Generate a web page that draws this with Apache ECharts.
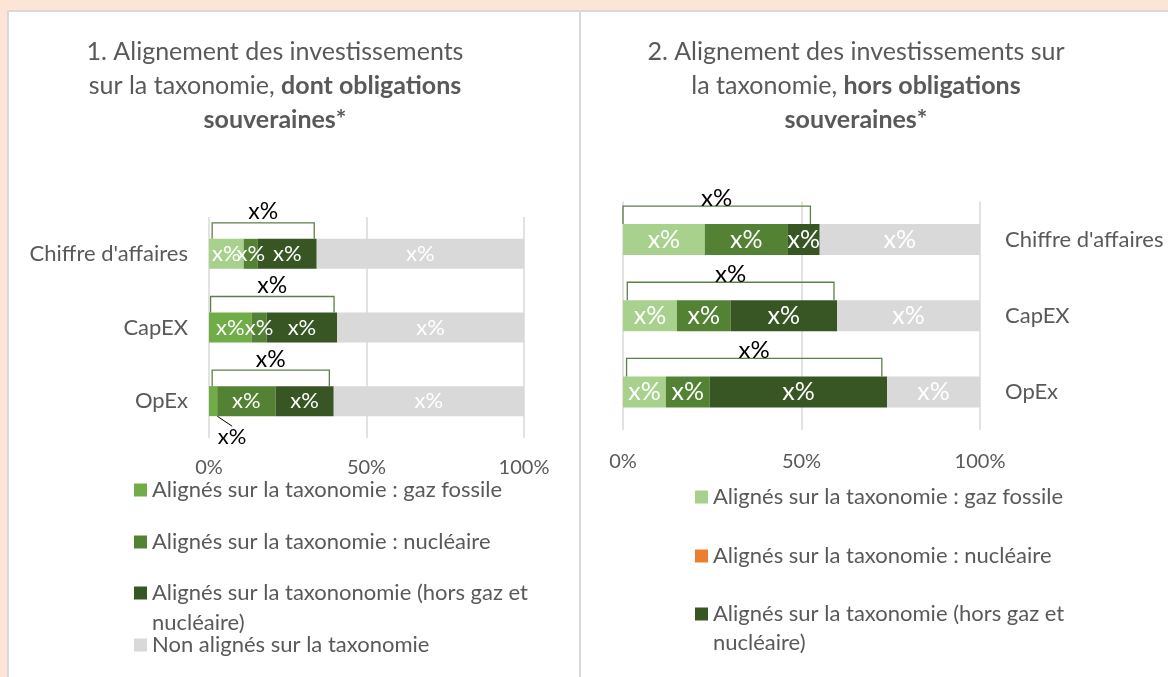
<!DOCTYPE html>
<html><head><meta charset="utf-8">
<script src="https://cdn.jsdelivr.net/npm/echarts@6/dist/echarts.min.js"></script>
<style>
html,body{margin:0;padding:0;background:#FCE4D6;width:1168px;height:677px;overflow:hidden;}
#frame{position:absolute;left:7px;top:10px;width:1170px;height:680px;background:#fff;border-left:2px solid #D9D9D9;border-top:2px solid #D9D9D9;}
#divider{position:absolute;left:579px;top:11px;width:2px;height:670px;background:#D9D9D9;}
#chart{position:absolute;left:0;top:0;width:1168px;height:677px;}
</style></head>
<body>
<div id="frame"></div><div id="divider"></div><div id="chart"></div>
<script>
const FONT = 'Lato';
const categories = ["Chiffre d'affaires", "CapEX", "OpEx"];
const ticks = [0, 50, 100];
const barLabelText = 'x%';

// Chart 1 : dont obligations souveraines
const left_gaz = [11.0, 13.5, 2.6];
const left_nucl = [4.5, 4.8, 18.5];
const left_hors = [18.7, 22.4, 18.5];
const left_non = [65.8, 59.3, 60.4];
const left_bracketStart = [1.0, 0.5, 1.0];
const left_bracketEnd = [33.4, 39.7, 38.2];
const left_legend = ["Alignés sur la taxonomie : gaz fossile", "Alignés sur la taxonomie : nucléaire", "Alignés sur la taxononomie (hors gaz et\nnucléaire)", "Non alignés sur la taxonomie"];

// Chart 2 : hors obligations souveraines
const right_gaz = [22.9, 15.1, 12.0];
const right_nucl = [23.3, 15.0, 12.3];
const right_hors = [8.9, 29.9, 49.7];
const right_non = [44.9, 40.0, 26.0];
const right_bracketStart = [0, 1.2, 1.0];
const right_bracketEnd = [52.5, 59.1, 72.5];
const right_legend = ["Alignés sur la taxonomie : gaz fossile", "Alignés sur la taxonomie : nucléaire", "Alignés sur la taxonomie (hors gaz et\nnucléaire)"];

const TXT = '#595959';
const names = { gazL: left_legend[0], nuclL: left_legend[1], horsL: left_legend[2], nonL: left_legend[3],
  gazR: right_legend[0], nuclR: right_legend[1], horsR: right_legend[2] };

function bracketRender(barW, rise, labelAbove, fontSize) {
  return function (params, api) {
    const c = api.value(1);
    const p0 = api.coord([api.value(0), c]);
    const p1 = api.coord([api.value(2), c]);
    const barTop = p0[1] - barW / 2;
    const top = barTop - rise;
    return {
      type: 'group',
      children: [
        { type: 'polyline', shape: { points: [[p0[0], barTop], [p0[0], top], [p1[0], top], [p1[0], barTop]] },
          style: { stroke: '#5E7F47', lineWidth: 1.3, fill: null } },
        { type: 'text', x: (p0[0] + p1[0]) / 2, y: top - labelAbove,
          style: { text: barLabelText, align: 'center', verticalAlign: 'middle', fill: '#000', fontSize: fontSize, fontFamily: FONT } }
      ]
    };
  };
}

function barSeries(id, data, color, axisIdx, labelSize, extra) {
  return Object.assign({
    type: 'bar', name: id, stack: 's' + axisIdx, xAxisIndex: axisIdx, yAxisIndex: axisIdx,
    barWidth: axisIdx === 0 ? 30 : 31,
    itemStyle: { color: color },
    label: { show: true, position: 'inside', formatter: barLabelText, color: '#fff', fontSize: labelSize, fontFamily: FONT },
    emphasis: { disabled: true },
    data: data
  }, extra || {});
}

function legendItem(id, left, top, lh, twoLine) {
  return {
    data: [id], left: left, top: top, orient: 'vertical', padding: 0,
    itemWidth: 13, itemHeight: 13, icon: 'rect', selectedMode: false,
    formatter: n => (twoLine ? '\n' : '') + names[n],
    textStyle: { color: TXT, fontSize: 22, fontFamily: FONT, lineHeight: lh }
  };
}

const titleStyle = { fontSize: 25, fontWeight: 'normal', color: TXT, fontFamily: FONT, lineHeight: 34,
  rich: { b: { fontSize: 25, fontWeight: 'bold', color: TXT, fontFamily: FONT, lineHeight: 34 } } };

const option = {
  backgroundColor: 'transparent',
  animation: false,
  textStyle: { fontFamily: FONT },
  title: [
    { text: '1. Alignement des investissements\nsur la taxonomie, {b|dont obligations}\n{b|souveraines*}',
      left: 275, top: 35, textAlign: 'center', padding: 0, textStyle: titleStyle },
    { text: '2. Alignement des investissements sur\nla taxonomie, {b|hors obligations}\n{b|souveraines*}',
      left: 856, top: 35, textAlign: 'center', padding: 0, textStyle: titleStyle }
  ],
  legend: [
    legendItem('gazL', 134, 478, 24, false),
    legendItem('nuclL', 134, 530, 24, false),
    legendItem('horsL', 134, 548, 30, true),
    legendItem('nonL', 134, 633, 24, false),
    legendItem('gazR', 695, 485, 24, false),
    legendItem('nuclR', 695, 544, 24, false),
    legendItem('horsR', 695, 570.5, 29, true)
  ],
  grid: [
    { left: 209, top: 217, width: 315, height: 221 },
    { left: 623, top: 201.5, width: 357, height: 228.5 }
  ],
  xAxis: [0, 1].map(i => ({
    type: 'value', gridIndex: i, min: 0, max: 100, interval: 50,
    axisLine: { show: false }, axisTick: { show: false },
    splitLine: { lineStyle: { color: '#D9D9D9', width: 1.5 } },
    axisLabel: { formatter: v => ticks.indexOf(v) >= 0 ? v + '%' : '', color: TXT, fontSize: 20, fontFamily: FONT, margin: i === 0 ? 20 : 22 }
  })),
  yAxis: [0, 1].map(i => ({
    type: 'category', gridIndex: i, data: categories, inverse: true, position: i === 0 ? 'left' : 'right',
    axisLine: { show: false }, axisTick: { show: false }, splitLine: { show: false },
    axisLabel: { color: TXT, fontSize: 22, fontFamily: FONT, margin: i === 0 ? 21 : 25 }
  })),
  series: [
    barSeries('gazL', left_gaz.map((v, k) => k === 0 ? { value: v, itemStyle: { color: '#A9D18E' } }
      : (k === 2 ? { value: v, label: { color: '#000' }, labelLine: { show: true, lineStyle: { color: '#000', width: 1 } } } : v)),
      '#70AD47', 0, 22, {
        labelLayout: function (p) { if (p.dataIndex === 2) return { dx: 19, dy: 36 }; },
        labelLine: { show: false }
      }),
    barSeries('nuclL', left_nucl, '#548235', 0, 22),
    barSeries('horsL', left_hors, '#375623', 0, 22),
    barSeries('nonL', left_non, '#D9D9D9', 0, 22),
    barSeries('gazR', right_gaz, '#A9D18E', 1, 25),
    barSeries('nuclR', right_nucl.map(v => ({ value: v, itemStyle: { color: '#548235' } })), '#ED7D31', 1, 25),
    barSeries('horsR', right_hors, '#375623', 1, 25),
    barSeries('nonR', right_non, '#D9D9D9', 1, 25),
    { type: 'custom', xAxisIndex: 0, yAxisIndex: 0, renderItem: bracketRender(30, 16, 11, 23), encode: { x: [0, 2], y: 1 },
      data: categories.map((c, k) => [left_bracketStart[k], k, left_bracketEnd[k]]), z: 5 },
    { type: 'custom', xAxisIndex: 1, yAxisIndex: 1, renderItem: bracketRender(31, 18, 8, 24), encode: { x: [0, 2], y: 1 },
      data: categories.map((c, k) => [right_bracketStart[k], k, right_bracketEnd[k]]), z: 5 }
  ]
};
const chart = echarts.init(document.getElementById('chart'), null, { renderer: 'canvas' });
chart.setOption(option);
</script>
</body></html>
